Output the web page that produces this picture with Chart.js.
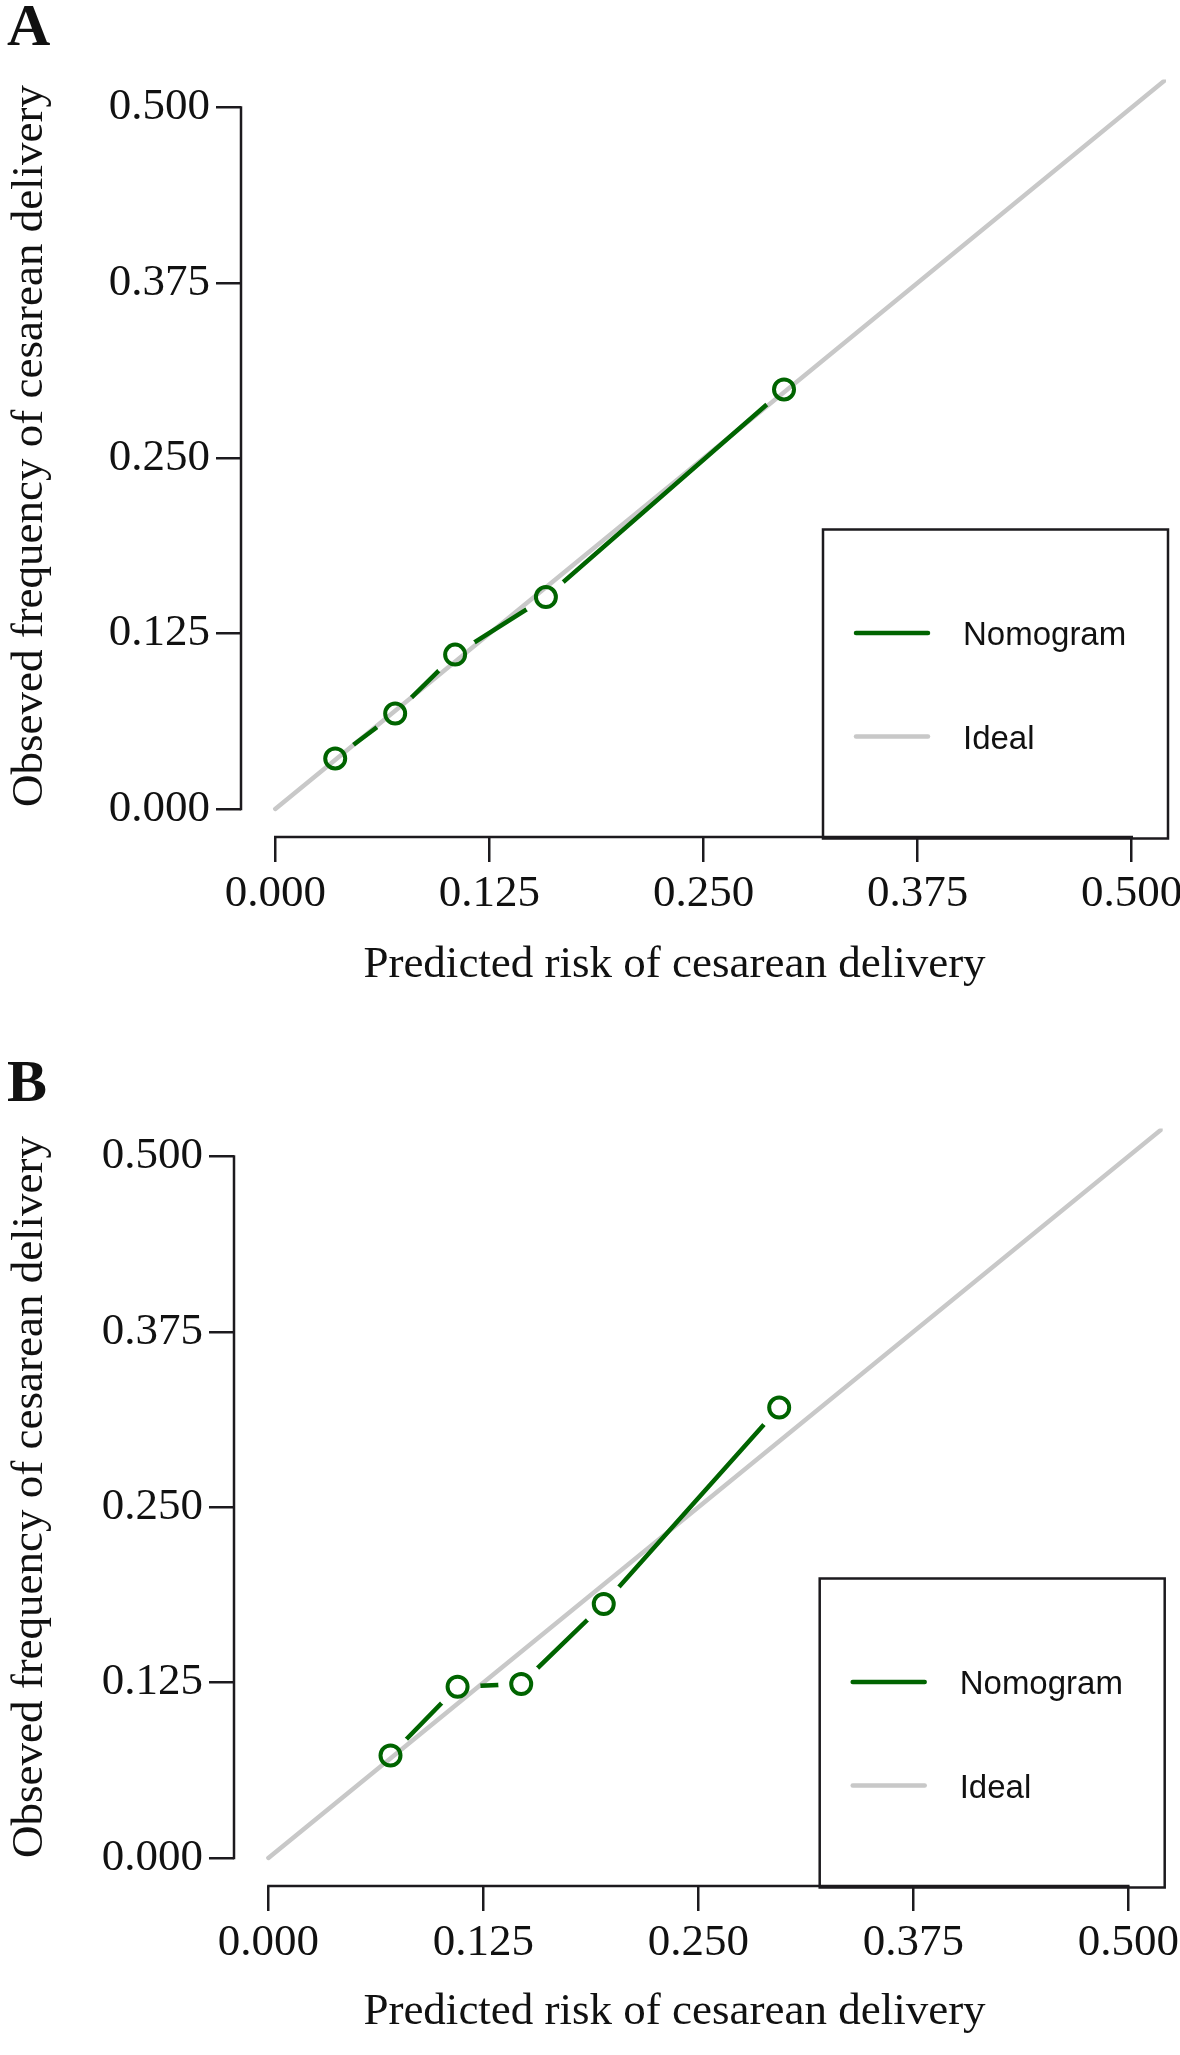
<!DOCTYPE html>
<html>
<head>
<meta charset="utf-8">
<script src="https://cdn.jsdelivr.net/npm/chart.js@4.4.1/dist/chart.umd.min.js"></script>
<style>
  html, body { margin: 0; padding: 0; background: #fff; }
  #page { position: relative; width: 1180px; height: 2055px; overflow: hidden; }
  canvas { position: absolute; left: 0; }
</style>
</head>
<body>
<div id="page">
  <canvas id="chartA" width="1180" height="1049" style="top:0px"></canvas>
  <canvas id="chartB" width="1180" height="1006" style="top:1049px"></canvas>
</div>
<script>
// values
const tickValues = [0, 0.125, 0.25, 0.375, 0.5];
const idealX = [0, 1];
const idealY = [0, 1];
const nomoAX = [0.035, 0.070, 0.105, 0.158, 0.297];
const nomoAY = [0.036, 0.068, 0.110, 0.151, 0.299];
const nomoBX = [0.071, 0.110, 0.147, 0.195, 0.297];
const nomoBY = [0.073, 0.122, 0.124, 0.181, 0.321];
const xTitle = 'Predicted risk of cesarean delivery';
const yTitle = 'Obseved frequency of cesarean delivery';

const GREEN = '#006400';
const GREY = '#c8c8c8';
const INK = '#1c1a1e';
const serif = "'Liberation Serif', 'Times New Roman', serif";
const sans = "'Liberation Sans', Arial, sans-serif";

function toPoints(xs, ys) {
    return xs.map((x, i) => ({ x: x, y: ys[i] }));
}

// cut the line around every point, like R's type = "b"
const gapPlugin = {
    id: 'gaps',
    beforeDatasetDraw(chart, args, opts) {
        if (args.index !== opts.datasetIndex) return;
        const ctx = chart.ctx;
        ctx.save();
        ctx.beginPath();
        ctx.rect(0, 0, chart.width, chart.height);
        args.meta.data.forEach(pt => {
            ctx.moveTo(pt.x + opts.radius, pt.y);
            ctx.arc(pt.x, pt.y, opts.radius, 0, Math.PI * 2);
        });
        ctx.clip('evenodd');
    },
    afterDatasetDraw(chart, args, opts) {
        if (args.index !== opts.datasetIndex) return;
        chart.ctx.restore();
    }
};

// axis lines over the tick range, legend box, titles and panel letter
const framePlugin = {
    id: 'frame',
    afterDraw(chart, args, o) {
        const ctx = chart.ctx;
        const ca = chart.chartArea;
        const x = chart.scales.x, y = chart.scales.y;
        const first = tickValues[0], last = tickValues[tickValues.length - 1];

        ctx.save();
        ctx.strokeStyle = INK;
        ctx.lineWidth = 2.5;
        ctx.lineCap = 'square';
        ctx.beginPath();
        ctx.moveTo(ca.left, y.getPixelForValue(first));
        ctx.lineTo(ca.left, y.getPixelForValue(last));
        ctx.moveTo(x.getPixelForValue(first), ca.bottom);
        ctx.lineTo(x.getPixelForValue(last), ca.bottom);
        ctx.stroke();

        // legend
        const boxW = 345, boxH = 309;
        const boxL = ca.right + 2 - boxW, boxT = ca.bottom + 1.5 - boxH;
        ctx.lineCap = 'butt';
        ctx.strokeRect(boxL, boxT, boxW, boxH);
        const items = chart.data.datasets.filter(d => d.label);
        items.forEach((d, i) => {
            const ly = boxT + 103.5 * (i + 1);
            ctx.strokeStyle = d.borderColor;
            ctx.lineWidth = d.borderWidth;
            ctx.lineCap = 'round';
            ctx.beginPath();
            ctx.moveTo(boxL + 33, ly);
            ctx.lineTo(boxL + 105, ly);
            ctx.stroke();
            ctx.fillStyle = '#111';
            ctx.font = '33px ' + sans;
            ctx.textAlign = 'left';
            ctx.textBaseline = 'alphabetic';
            ctx.fillText(d.label, boxL + 140, ly + 12);
        });

        // axis titles
        ctx.fillStyle = '#111';
        ctx.font = '45px ' + serif;
        ctx.textAlign = 'center';
        ctx.textBaseline = 'alphabetic';
        ctx.fillText(xTitle, o.xTitleX, o.xTitleBase);
        ctx.save();
        ctx.translate(o.yTitleBase, o.yTitleY);
        ctx.rotate(-Math.PI / 2);
        ctx.fillText(yTitle, 0, 0);
        ctx.restore();

        // panel letter
        ctx.font = 'bold 60px ' + serif;
        ctx.textAlign = 'left';
        ctx.fillText(o.letter, 7, o.letterBase);
        ctx.restore();
    }
};

function axisOptions(isX, p) {
    return {
        type: 'linear',
        min: -0.02,
        max: 0.52,
        afterBuildTicks: ax => { ax.ticks = tickValues.map(v => ({ value: v })); },
        afterFit: ax => {
            if (isX) ax.height = p.xAxisH; else ax.width = p.yAxisW;
            ax.paddingLeft = 0; ax.paddingRight = 0;
            ax.paddingTop = 0; ax.paddingBottom = 0;
        },
        border: { display: false },
        grid: { drawOnChartArea: false, drawTicks: true, tickLength: 25, lineWidth: 2.5, color: INK },
        ticks: {
            autoSkip: false,
            maxRotation: 0,
            padding: isX ? 10 : 6,
            color: '#111',
            font: { family: serif, size: 45, lineHeight: 1 },
            callback: v => v.toFixed(3)
        }
    };
}

function makePanel(id, xs, ys, p) {
    return new Chart(document.getElementById(id), {
        type: 'scatter',
        data: {
            datasets: [
                {
                    label: 'Nomogram',
                    data: toPoints(xs, ys),
                    showLine: true,
                    borderColor: GREEN,
                    borderWidth: 4.5,
                    borderCapStyle: 'round',
                    pointRadius: 0,
                    pointHoverRadius: 0,
                    order: 2
                },
                {
                    data: toPoints(xs, ys),
                    showLine: false,
                    pointRadius: 10,
                    pointHoverRadius: 10,
                    pointBorderWidth: 4,
                    pointBorderColor: GREEN,
                    pointBackgroundColor: 'rgba(0,0,0,0)',
                    order: 1
                },
                {
                    label: 'Ideal',
                    data: toPoints(idealX, idealY),
                    showLine: true,
                    borderColor: GREY,
                    borderWidth: 4.5,
                    borderCapStyle: 'round',
                    pointRadius: 0,
                    pointHoverRadius: 0,
                    order: 3
                }
            ]
        },
        options: {
            responsive: false,
            animation: false,
            devicePixelRatio: 1,
            events: [],
            layout: { padding: { left: 0, top: 79.4, right: p.padRight, bottom: 0 } },
            scales: {
                x: axisOptions(true, p),
                y: axisOptions(false, p)
            },
            plugins: {
                legend: { display: false },
                tooltip: { enabled: false },
                gaps: { datasetIndex: 0, radius: 23 },
                frame: p
            }
        },
        plugins: [gapPlugin, framePlugin]
    });
}

makePanel('chartA', nomoAX, nomoAY, {
    yAxisW: 241, xAxisH: 212, padRight: 10.3,
    xTitleX: 674.5, xTitleBase: 977, yTitleBase: 41.5, yTitleY: 446,
    letter: 'A', letterBase: 45
});
makePanel('chartB', nomoBX, nomoBY, {
    yAxisW: 234, xAxisH: 169, padRight: 17.3,
    xTitleX: 674.5, xTitleBase: 975, yTitleBase: 41.5, yTitleY: 448,
    letter: 'B', letterBase: 52
});
</script>
</body>
</html>
